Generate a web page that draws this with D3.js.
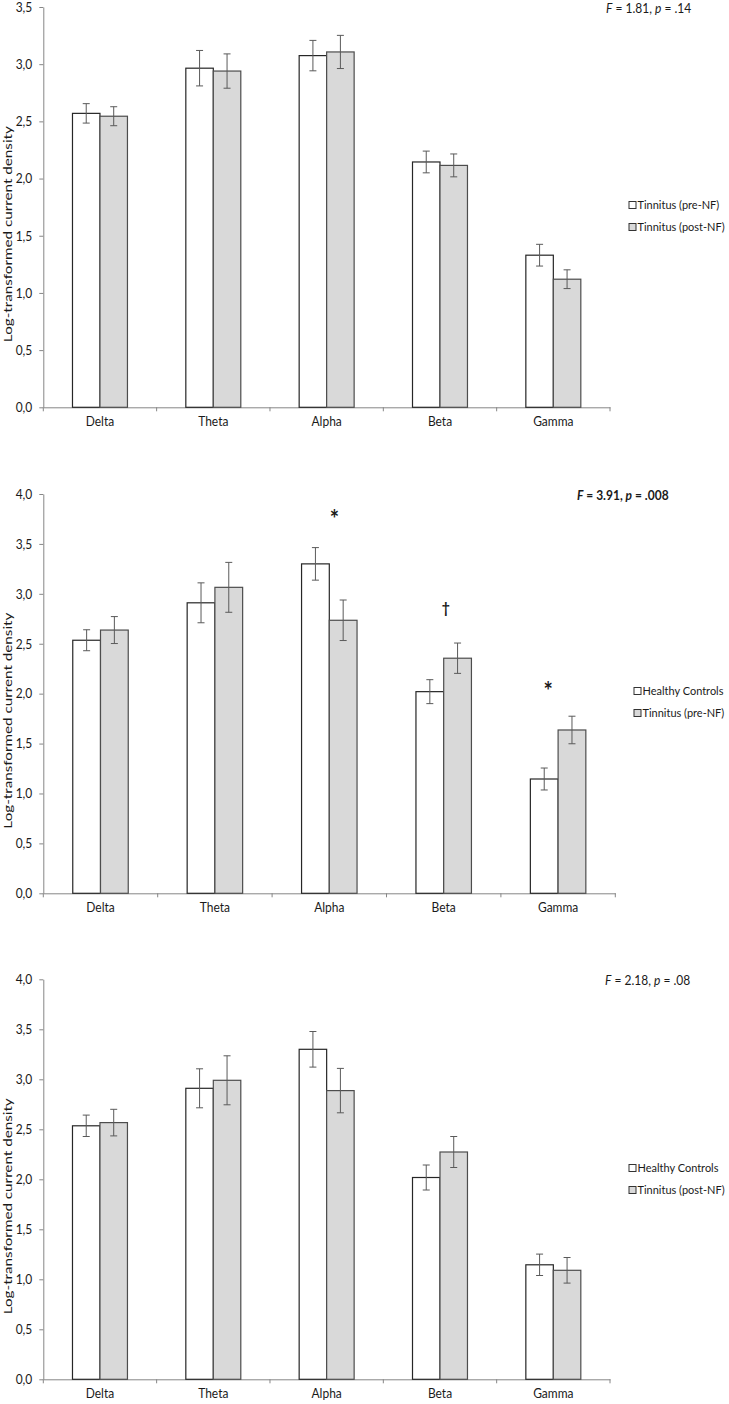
<!DOCTYPE html>
<html>
<head>
<meta charset="utf-8">
<script src="https://cdn.jsdelivr.net/npm/d3@7"></script>
<style>
  body { margin: 0; background: #fff; }
  text { font-family: Lato, "Open Sans", sans-serif; fill: #1a1a1a; }
</style>
</head>
<body>
<div id="chart-container"></div>
<script>
// --- data ---
const categories = ["Delta", "Theta", "Alpha", "Beta", "Gamma"];

// panel 1: tinnitus pre vs post
const p1Pre = [2.57, 2.965, 3.075, 2.145, 1.33];
const p1PreErr = [0.085, 0.155, 0.133, 0.095, 0.095];
const p1Post = [2.545, 2.94, 3.107, 2.115, 1.12];
const p1PostErr = [0.083, 0.15, 0.145, 0.1, 0.082];

// panel 2: healthy controls vs tinnitus pre
const p2Hc = [2.535, 2.91, 3.3, 2.02, 1.145];
const p2HcErr = [0.105, 0.2, 0.163, 0.12, 0.11];
const p2Pre = [2.637, 3.065, 2.735, 2.355, 1.636];
const p2PreErr = [0.135, 0.25, 0.203, 0.152, 0.138];

// panel 3: healthy controls vs tinnitus post
const p3Hc = [2.535, 2.91, 3.3, 2.018, 1.145];
const p3HcErr = [0.107, 0.195, 0.178, 0.125, 0.107];
const p3Post = [2.567, 2.99, 2.887, 2.273, 1.09];
const p3PostErr = [0.133, 0.245, 0.222, 0.155, 0.128];

const p2Marks = [
  { cat: "Alpha", level: 3.81, sym: "*" },
  { cat: "Beta", level: 2.86, sym: "\u2020" },
  { cat: "Gamma", level: 2.09, sym: "*" }
];

// --- layout ---
const stretch = 1.12; // source picture is stretched vertically
const svg = d3.select("#chart-container").append("svg")
  .attr("width", 729).attr("height", 1404);

const panels = [
  { top: 7, bottom: 407.3, left: 43.3, right: 610, yMax: 3.5,
    series: [[p1Pre, p1PreErr], [p1Post, p1PostErr]],
    legend: ["Tinnitus (pre-NF)", "Tinnitus (post-NF)"], legendX: 629, legendY: 205,
    stat: ["1.81", ".14"], statX: 606, bold: false, marks: [] },
  { top: 494, bottom: 893.3, left: 43.3, right: 615.3, yMax: 4.0,
    series: [[p2Hc, p2HcErr], [p2Pre, p2PreErr]],
    legend: ["Healthy Controls", "Tinnitus (pre-NF)"], legendX: 634, legendY: 691,
    stat: ["3.91", ".008"], statX: 577, bold: true, marks: p2Marks },
  { top: 979.3, bottom: 1379.3, left: 43.3, right: 610, yMax: 4.0,
    series: [[p3Hc, p3HcErr], [p3Post, p3PostErr]],
    legend: ["Healthy Controls", "Tinnitus (post-NF)"], legendX: 629, legendY: 1168,
    stat: ["2.18", ".08"], statX: 605, bold: false, marks: [] }
];

const fills = ["#ffffff", "#d9d9d9"];
const strokes = ["#262626", "#4d4d4d"];
const fs = 12;

function drawPanel(p) {
  const g = svg.append("g");
  const y = d3.scaleLinear().domain([0, p.yMax]).range([p.bottom, p.top]);
  const x0 = d3.scaleBand().domain(categories).range([p.left, p.right])
    .paddingInner(0.515).paddingOuter(0.2575);
  const x1 = d3.scaleBand().domain([0, 1]).range([0, x0.bandwidth()]);

  // y axis
  const yAxis = g.append("g")
    .attr("transform", `translate(${p.left},0)`)
    .call(d3.axisLeft(y)
      .tickValues(d3.range(0, p.yMax + 0.01, 0.5))
      .tickSize(4).tickPadding(7).tickSizeOuter(0)
      .tickFormat(d => d.toFixed(1).replace(".", ",")));
  yAxis.select(".domain").attr("stroke", "#868686");
  yAxis.selectAll(".tick line").attr("stroke", "#868686");
  yAxis.selectAll(".tick text")
    .attr("font-size", fs).attr("fill", "#1a1a1a")
    .attr("transform", `scale(1,${stretch})`);

  // x axis
  const xAxis = g.append("g")
    .attr("transform", `translate(0,${p.bottom})`)
    .call(d3.axisBottom(x0).tickSize(0).tickPadding(8));
  xAxis.select(".domain").attr("stroke", "#868686");
  xAxis.selectAll(".tick text")
    .attr("font-size", fs).attr("fill", "#1a1a1a")
    .attr("transform", `scale(1,${stretch})`);
  const bounds = categories.map(c => x0(c) - (x0.step() - x0.bandwidth()) / 2)
    .concat([p.right]);
  xAxis.selectAll(".bound").data(bounds).enter().append("line")
    .attr("x1", d => d).attr("x2", d => d)
    .attr("y1", 0).attr("y2", 4)
    .attr("stroke", "#868686");

  // bars
  p.series.forEach(([vals, errs], si) => {
    const sg = g.append("g");
    sg.selectAll("rect").data(vals).enter().append("rect")
      .attr("x", (d, i) => x0(categories[i]) + x1(si))
      .attr("y", d => y(d))
      .attr("width", x1.bandwidth())
      .attr("height", d => y(0) - y(d))
      .attr("fill", fills[si])
      .attr("stroke", strokes[si])
      .attr("stroke-width", 1.2);

    const eg = sg.selectAll(".err").data(vals).enter().append("g")
      .attr("transform", (d, i) =>
        `translate(${x0(categories[i]) + x1(si) + x1.bandwidth() / 2},0)`)
      .attr("stroke", "#5a5a5a").attr("stroke-width", 1);
    eg.append("line")
      .attr("y1", (d, i) => y(d + errs[i])).attr("y2", (d, i) => y(d - errs[i]));
    eg.append("line").attr("x1", -3.5).attr("x2", 3.5)
      .attr("y1", (d, i) => y(d + errs[i])).attr("y2", (d, i) => y(d + errs[i]));
    eg.append("line").attr("x1", -3.5).attr("x2", 3.5)
      .attr("y1", (d, i) => y(d - errs[i])).attr("y2", (d, i) => y(d - errs[i]));
  });

  // significance marks
  const nudge = { Alpha: 5, Beta: 2, Gamma: -10 };
  p.marks.forEach(m => {
    g.append("text")
      .attr("transform",
        `translate(${x0(m.cat) + x0.bandwidth() / 2 + nudge[m.cat]},${y(m.level)}) scale(1,${stretch})`)
      .attr("text-anchor", "middle")
      .attr("dy", m.sym === "*" ? "0.62em" : "0.35em")
      .attr("font-family", m.sym === "*" ? "Liberation Sans" : null)
      .attr("font-size", m.sym === "*" ? 22 : 14)
      .attr("font-weight", "bold")
      .text(m.sym);
  });

  // y title
  g.append("text")
    .attr("transform",
      `translate(7,${(p.top + p.bottom) / 2 + 27}) rotate(-90)`)
    .attr("text-anchor", "middle")
    .attr("dominant-baseline", "central")
    .attr("font-size", fs)
    .attr("textLength", 216)
    .attr("lengthAdjust", "spacingAndGlyphs")
    .text("Log-transformed current density");

  // stats
  const st = g.append("text")
    .attr("transform", `translate(${p.statX},${p.top + 1}) scale(1,${stretch})`)
    .attr("dy", "0.35em")
    .attr("font-size", fs)
    .attr("font-weight", p.bold ? "bold" : "normal");
  st.append("tspan").attr("font-style", "italic").text("F");
  st.append("tspan").text(` = ${p.stat[0]}, `);
  st.append("tspan").attr("font-style", "italic").text("p");
  st.append("tspan").text(` = ${p.stat[1]}`);

  // legend
  const lg = g.append("g");
  p.legend.forEach((name, i) => {
    const ly = p.legendY + i * 22;
    lg.append("rect")
      .attr("x", p.legendX).attr("y", ly - 3.5)
      .attr("width", 7).attr("height", 7)
      .attr("fill", fills[i]).attr("stroke", "#333").attr("stroke-width", 1);
    lg.append("text")
      .attr("transform", `translate(${p.legendX + 8.5},${ly}) scale(1,${stretch})`)
      .attr("dy", "0.35em")
      .attr("font-size", 11)
      .text(name);
  });
}

panels.forEach(drawPanel);
</script>
</body>
</html>
